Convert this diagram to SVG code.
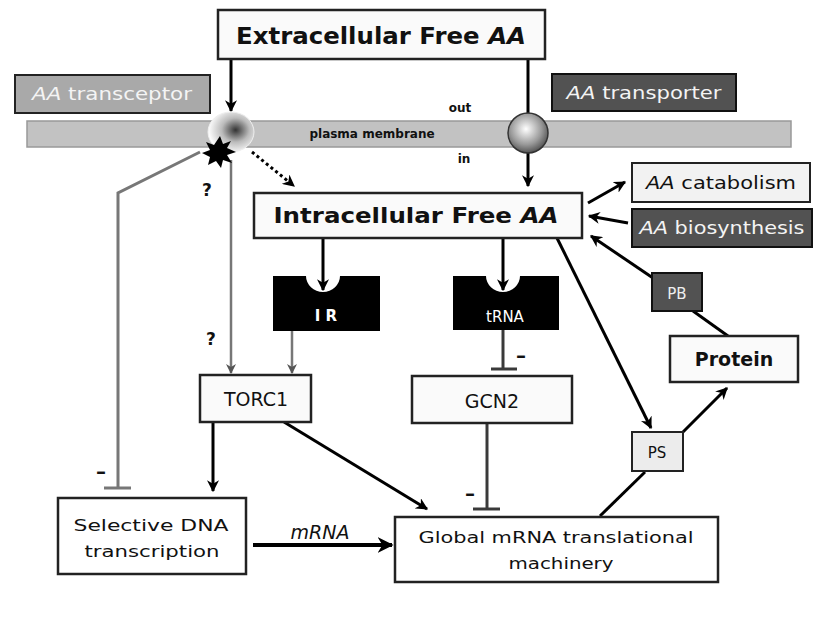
<svg xmlns="http://www.w3.org/2000/svg" width="815" height="618" viewBox="0 0 815 618">
<style>
.t{font-family:"DejaVu Sans","Liberation Sans",sans-serif;fill:#111}
.box{fill:#fafafa;stroke:#222;stroke-width:2.5}
.dark{fill:#525252;stroke:#111;stroke-width:2.5}
.blk{fill:#000}
.ln{stroke:#000;stroke-width:3;fill:none}
.gl{stroke:#777;stroke-width:3;fill:none}
.inh{stroke:#3a3a3a;stroke-width:3;fill:none}
.minus{font-size:20px;font-weight:bold}
</style>
<defs>
<marker id="ah" viewBox="0 0 10 10" refX="9" refY="5" markerWidth="4" markerHeight="4" orient="auto" markerUnits="strokeWidth"><path d="M0,0 L10,5 L0,10 L3,5 z" fill="#000"/></marker>
<marker id="ahg" viewBox="0 0 10 10" refX="9" refY="5" markerWidth="4" markerHeight="4" orient="auto" markerUnits="strokeWidth"><path d="M0,0 L10,5 L0,10 L3,5 z" fill="#555"/></marker>
<radialGradient id="rec" cx="0.6" cy="0.45" r="0.6"><stop offset="0" stop-color="#333"/><stop offset="0.5" stop-color="#bbb"/><stop offset="1" stop-color="#fff"/></radialGradient>
<radialGradient id="sph" cx="0.45" cy="0.4" r="0.65"><stop offset="0" stop-color="#fff"/><stop offset="0.6" stop-color="#999"/><stop offset="1" stop-color="#444"/></radialGradient>
</defs>
<rect width="815" height="618" fill="#fff"/>

<g id="membrane">
<rect x="27" y="121" width="764" height="26" fill="#c2c2c2" stroke="#999" stroke-width="1.5"/>
<text class="t" x="372" y="138" font-size="12" font-weight="bold" text-anchor="middle">plasma membrane</text>
<text class="t" x="460" y="112" font-size="12" font-weight="bold" text-anchor="middle">out</text>
<text class="t" x="464" y="163" font-size="12" font-weight="bold" text-anchor="middle">in</text>
</g>

<g id="connectors">
<line class="ln" x1="231" y1="59" x2="231" y2="111" marker-end="url(#ah)"/>
<line class="ln" x1="528" y1="59" x2="528" y2="115"/>
<line class="ln" x1="528" y1="152" x2="528" y2="186" marker-end="url(#ah)"/>
<line x1="252" y1="152" x2="294" y2="186" stroke="#000" stroke-width="3" stroke-dasharray="3,3" marker-end="url(#ah)"/>
<polyline class="gl" points="200,152 118,193 118,488"/>
<line class="gl" x1="104" y1="488" x2="131" y2="488"/>
<line class="gl" x1="231" y1="160" x2="231" y2="373" style="stroke-width:2.5" marker-end="url(#ahg)"/>
<line class="gl" x1="292" y1="331" x2="292" y2="373" style="stroke-width:2.5" marker-end="url(#ahg)"/>
<line class="ln" x1="323" y1="238" x2="323" y2="290" marker-end="url(#ah)"/>
<line class="ln" x1="503" y1="238" x2="503" y2="290" marker-end="url(#ah)"/>
<line class="inh" x1="503" y1="330" x2="503" y2="369"/>
<line class="inh" x1="491" y1="369" x2="517" y2="369"/>
<line class="inh" x1="487" y1="423" x2="487" y2="509"/>
<line class="inh" x1="473" y1="509" x2="500" y2="509"/>
<line class="ln" x1="588" y1="203" x2="625" y2="182" marker-end="url(#ah)"/>
<line class="ln" x1="628" y1="223" x2="589" y2="216" marker-end="url(#ah)"/>
<line class="ln" x1="653" y1="278" x2="591" y2="236" marker-end="url(#ah)"/>
<line class="ln" x1="693" y1="311" x2="728" y2="336"/>
<line class="ln" x1="557" y1="238" x2="651" y2="428" marker-end="url(#ah)"/>
<line class="ln" x1="600" y1="516" x2="645" y2="472"/>
<line class="ln" x1="683" y1="432" x2="727" y2="388" marker-end="url(#ah)"/>
<line class="ln" x1="213" y1="422" x2="213" y2="491" marker-end="url(#ah)"/>
<line class="ln" x1="284" y1="422" x2="427" y2="509" marker-end="url(#ah)"/>
<line x1="253" y1="545" x2="392" y2="545" stroke="#000" stroke-width="4" marker-end="url(#ah)"/>
</g>

<g id="extracellular">
<rect class="box" x="218" y="10" width="327" height="49"/>
<text class="t" x="381" y="44" font-size="23" font-weight="bold" text-anchor="middle" textLength="290" lengthAdjust="spacingAndGlyphs">Extracellular Free <tspan font-style="italic">AA</tspan></text>
</g>

<g id="transceptor">
<rect x="15" y="75" width="195" height="38" fill="#a9a9a9" stroke="#222" stroke-width="2"/>
<text class="t" x="112" y="100" font-size="17" text-anchor="middle" style="fill:#f4f4f4" textLength="160" lengthAdjust="spacingAndGlyphs"><tspan font-style="italic">AA</tspan> transceptor</text>
<ellipse cx="231" cy="132" rx="23" ry="20" fill="url(#rec)" stroke="#eee" stroke-width="1"/>
<polygon fill="#000" points="220,136 223,144 231,141 227,148 236,152 227,155 232,163 223,160 221,168 216,161 208,165 210,157 202,153 210,150 206,142 214,145"/>
</g>

<g id="transporter">
<rect class="dark" x="552" y="74" width="184" height="37" style="stroke-width:2"/>
<text class="t" x="644" y="99" font-size="17" text-anchor="middle" style="fill:#f4f4f4" textLength="155" lengthAdjust="spacingAndGlyphs"><tspan font-style="italic">AA</tspan> transporter</text>
<circle cx="528" cy="133" r="20" fill="url(#sph)" stroke="#333" stroke-width="1.5"/>
</g>

<g id="intracellular">
<rect class="box" x="254" y="193" width="328" height="45"/>
<text class="t" x="416" y="223" font-size="21" font-weight="bold" text-anchor="middle" textLength="285" lengthAdjust="spacingAndGlyphs">Intracellular Free <tspan font-style="italic">AA</tspan></text>
</g>

<g id="catabolism">
<rect class="box" x="632" y="163" width="178" height="39" style="fill:#f2f2f2;stroke-width:2"/>
<text class="t" x="721" y="189" font-size="17" text-anchor="middle" textLength="150" lengthAdjust="spacingAndGlyphs"><tspan font-style="italic">AA</tspan> catabolism</text>
</g>

<g id="biosynthesis">
<rect class="dark" x="632" y="209" width="180" height="38" style="stroke-width:2"/>
<text class="t" x="722" y="234" font-size="17" text-anchor="middle" style="fill:#f4f4f4" textLength="165" lengthAdjust="spacingAndGlyphs"><tspan font-style="italic">AA</tspan> biosynthesis</text>
</g>

<g id="IR">
<path class="blk" d="M273,276 L306,276 A17,16 0 0 0 340,276 L380,276 L380,331 L273,331 z"/>
<text class="t" x="326" y="321" font-size="15" font-weight="bold" text-anchor="middle" style="fill:#fff">I R</text>
</g>

<g id="tRNA">
<path class="blk" d="M453,276 L486,276 A17,16 0 0 0 520,276 L559,276 L559,330 L453,330 z"/>
<text class="t" x="505" y="322" font-size="15" text-anchor="middle" style="fill:#fff">tRNA</text>
</g>

<g id="PB">
<rect class="dark" x="652" y="273" width="50" height="38" style="stroke-width:2"/>
<text class="t" x="677" y="299" font-size="15" text-anchor="middle" style="fill:#eee">PB</text>
</g>

<g id="protein">
<rect class="box" x="670" y="336" width="128" height="46"/>
<text class="t" x="734" y="366" font-size="19" font-weight="bold" text-anchor="middle">Protein</text>
</g>

<g id="TORC1">
<rect class="box" x="200" y="375" width="111" height="47"/>
<text class="t" x="256" y="406" font-size="19" text-anchor="middle">TORC1</text>
</g>

<g id="GCN2">
<rect class="box" x="412" y="376" width="160" height="47"/>
<text class="t" x="492" y="408" font-size="19" text-anchor="middle">GCN2</text>
</g>

<g id="PS">
<rect class="box" x="632" y="432" width="51" height="39" style="fill:#ececec;stroke-width:2"/>
<text class="t" x="657" y="458" font-size="15" text-anchor="middle">PS</text>
</g>

<g id="selective">
<rect class="box" x="58" y="498" width="188" height="76" style="fill:#fff"/>
<text class="t" x="151" y="531" font-size="16" text-anchor="middle" textLength="155" lengthAdjust="spacingAndGlyphs">Selective DNA</text>
<text class="t" x="152" y="557" font-size="16" text-anchor="middle" textLength="135" lengthAdjust="spacingAndGlyphs">transcription</text>
</g>

<g id="global">
<rect class="box" x="395" y="517" width="323" height="65" style="fill:#fff"/>
<text class="t" x="556" y="543" font-size="16" text-anchor="middle" textLength="275" lengthAdjust="spacingAndGlyphs">Global mRNA translational</text>
<text class="t" x="561" y="569" font-size="16" text-anchor="middle" textLength="105" lengthAdjust="spacingAndGlyphs">machinery</text>
</g>

<g id="labels">
<text class="t" x="320" y="539" font-size="19" font-style="italic" text-anchor="middle">mRNA</text>
<text class="t" x="207" y="196" font-size="17" font-weight="bold" text-anchor="middle">?</text>
<text class="t" x="211" y="345" font-size="17" font-weight="bold" text-anchor="middle">?</text>
<text class="t minus" x="101" y="478" text-anchor="middle">–</text>
<text class="t minus" x="470" y="500" text-anchor="middle">–</text>
<text class="t minus" x="521" y="362" text-anchor="middle">–</text>
</g>
</svg>
